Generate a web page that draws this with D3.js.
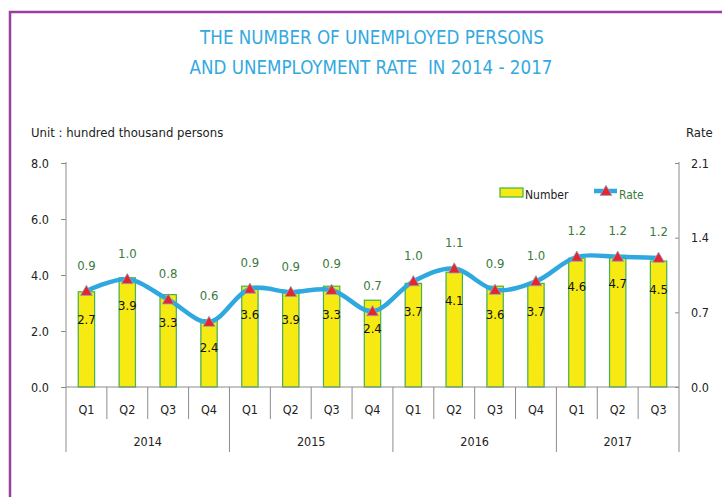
<!DOCTYPE html>
<html>
<head>
<meta charset="utf-8">
<script src="https://cdn.jsdelivr.net/npm/d3@7"></script>
<style>
  body { margin: 0; background: #fff; }
  svg text { font-family: "Liberation Sans Narrow", "DejaVu Sans Condensed", "Noto Sans", sans-serif; }
</style>
</head>
<body>
<div id="plotDiv"></div>
<script>
var quarters = ["Q1", "Q2", "Q3", "Q4", "Q1", "Q2", "Q3", "Q4", "Q1", "Q2", "Q3", "Q4", "Q1", "Q2", "Q3"];
var years = ["2014", "2015", "2016", "2017"];
var yearSpans = [4, 4, 4, 3];
// bar heights as drawn (hundred thousand persons)
var numberValues = [3.4, 3.9, 3.3, 2.4, 3.6, 3.4, 3.6, 3.1, 3.7, 4.1, 3.6, 3.7, 4.6, 4.7, 4.5];
// labels printed on the bars
var numberLabels = ["2.7", "3.9", "3.3", "2.4", "3.6", "3.9", "3.3", "2.4", "3.7", "4.1", "3.6", "3.7", "4.6", "4.7", "4.5"];
var rateValues = [0.90, 1.01, 0.82, 0.61, 0.92, 0.89, 0.91, 0.71, 0.99, 1.11, 0.91, 0.99, 1.22, 1.22, 1.21];
var rateLabels = ["0.9", "1.0", "0.8", "0.6", "0.9", "0.9", "0.9", "0.7", "1.0", "1.1", "0.9", "1.0", "1.2", "1.2", "1.2"];
var leftTicks = [0, 2, 4, 6, 8];
var rightTicks = [0, 0.7, 1.4, 2.1];

var W = 722, H = 497;
var plot = { left: 66, right: 679, top: 163, bottom: 387 };

var svg = d3.select("#plotDiv").append("svg")
    .attr("width", W).attr("height", H);

// frame
svg.append("rect")
    .attr("x", 10).attr("y", 12)
    .attr("width", 760).attr("height", 520)
    .attr("fill", "none").attr("stroke", "#9a3f9e").attr("stroke-width", 2.5);

// title
var titleColor = "#33a9e0";
svg.append("text").attr("x", 372).attr("y", 44).attr("text-anchor", "middle")
    .attr("font-size", 18.6).attr("fill", titleColor)
    .text("THE NUMBER OF UNEMPLOYED PERSONS");
svg.append("text").attr("x", 371).attr("y", 74).attr("text-anchor", "middle")
    .attr("font-size", 18.6).attr("fill", titleColor).attr("xml:space", "preserve")
    .text("AND UNEMPLOYMENT RATE  IN 2014 - 2017");

svg.append("text").attr("x", 31).attr("y", 137).attr("font-size", 13).attr("fill", "#222")
    .text("Unit : hundred thousand persons");
svg.append("text").attr("x", 686).attr("y", 137).attr("font-size", 13).attr("fill", "#222")
    .text("Rate");

var idx = d3.range(quarters.length);
var xScale = d3.scaleBand().domain(idx).range([plot.left, plot.right]);
var yScale = d3.scaleLinear().domain([0, 8]).range([plot.bottom, plot.top]);
var rScale = d3.scaleLinear().domain([0, 2.1]).range([plot.bottom, plot.top]);

// left axis
var yAxis = d3.axisLeft(yScale).tickValues(leftTicks).tickFormat(d3.format(".1f")).tickSize(5).tickPadding(12);
var gy = svg.append("g").attr("transform", "translate(" + plot.left + ",0)").call(yAxis);
gy.select(".domain").remove();
gy.selectAll("line").attr("stroke", "#8c8c8c");
gy.selectAll("text").attr("font-size", 12.5).attr("fill", "#222").attr("font-family", null);

// right axis (ticks point inward)
var rAxis = d3.axisRight(rScale).tickValues(rightTicks).tickFormat(d3.format(".1f")).tickSize(0).tickPadding(12);
var gr = svg.append("g").attr("transform", "translate(" + plot.right + ",0)").call(rAxis);
gr.select(".domain").remove();
gr.selectAll(".tick").append("line").attr("x1", -4).attr("x2", 0).attr("stroke", "#8c8c8c");
gr.selectAll("text").attr("font-size", 12.5).attr("fill", "#222").attr("font-family", null);

var axisColor = "#8c8c8c";
// vertical axis lines extended down through category area
svg.append("line").attr("x1", plot.left).attr("x2", plot.left).attr("y1", plot.top - 1).attr("y2", 452).attr("stroke", axisColor);
svg.append("line").attr("x1", plot.right).attr("x2", plot.right).attr("y1", plot.top - 1).attr("y2", 452).attr("stroke", axisColor);

// bars
var bars = svg.append("g");
bars.selectAll("rect").data(numberValues).enter().append("rect")
    .attr("x", function (d, i) { return xScale(i) + xScale.bandwidth() * 0.3; })
    .attr("width", xScale.bandwidth() * 0.4)
    .attr("y", function (d) { return yScale(d); })
    .attr("height", function (d) { return plot.bottom - yScale(d); })
    .attr("fill", "#f6ea12").attr("stroke", "#3cb54a").attr("stroke-width", 1.2);

// dotted texture at bar edges
[0.3, 0.7].forEach(function (f) {
    bars.selectAll(null).data(numberValues).enter().append("line")
        .attr("x1", function (d, i) { return xScale(i) + xScale.bandwidth() * f; })
        .attr("x2", function (d, i) { return xScale(i) + xScale.bandwidth() * f; })
        .attr("y1", function (d) { return yScale(d) + 8; })
        .attr("y2", plot.bottom - 2)
        .attr("stroke", "#9a9a9a").attr("stroke-width", 1)
        .attr("stroke-dasharray", "1 1.5").attr("opacity", 0.55);
});

// x axis line
svg.append("line").attr("x1", plot.left).attr("x2", plot.right).attr("y1", plot.bottom).attr("y2", plot.bottom).attr("stroke", axisColor);

// category separators
var xg = svg.append("g");
var yearStart = [0];
yearSpans.forEach(function (s, i) { yearStart.push(yearStart[i] + s); });
d3.range(1, quarters.length).forEach(function (i) {
    var isYear = yearStart.indexOf(i) >= 0;
    xg.append("line").attr("x1", xScale(i)).attr("x2", xScale(i))
        .attr("y1", plot.bottom).attr("y2", isYear ? 452 : 419)
        .attr("stroke", axisColor);
});
xg.selectAll("text.q").data(quarters).enter().append("text")
    .attr("x", function (d, i) { return xScale(i) + xScale.bandwidth() / 2; })
    .attr("y", 414).attr("text-anchor", "middle").attr("font-size", 12.5).attr("fill", "#222")
    .text(function (d) { return d; });
xg.selectAll("text.y").data(years).enter().append("text")
    .attr("x", function (d, i) {
        var a = xScale(yearStart[i]);
        var b = yearStart[i + 1] >= quarters.length ? plot.right : xScale(yearStart[i + 1]);
        return (a + b) / 2;
    })
    .attr("y", 446).attr("text-anchor", "middle").attr("font-size", 12.5).attr("fill", "#222")
    .text(function (d) { return d; });

// rate line
var cx = function (i) { return xScale(i) + xScale.bandwidth() / 2; };
var line = d3.line().x(function (d, i) { return cx(i); }).y(function (d) { return rScale(d); })
    .curve(d3.curveCatmullRom.alpha(0.5));
svg.append("path").datum(rateValues).attr("d", line)
    .attr("fill", "none").attr("stroke", "#2fa8e0").attr("stroke-width", 4.5)
    .attr("stroke-linecap", "round");

var tri = d3.symbol().type(d3.symbolTriangle).size(60);
svg.append("g").selectAll("path").data(rateValues).enter().append("path")
    .attr("d", tri)
    .attr("transform", function (d, i) { return "translate(" + cx(i) + "," + (rScale(d) + 1) + ")"; })
    .attr("fill", "#e3262f").attr("stroke", "#8aa6c8").attr("stroke-width", 0.8);

// number labels
svg.append("g").selectAll("text").data(numberLabels).enter().append("text")
    .attr("x", function (d, i) { return cx(i); })
    .attr("y", function (d, i) { return yScale(numberValues[i]) + 28; })
    .attr("dy", "0.35em").attr("text-anchor", "middle").attr("font-size", 13).attr("fill", "#111")
    .text(function (d) { return d; });

// rate labels
svg.append("g").selectAll("text").data(rateLabels).enter().append("text")
    .attr("x", function (d, i) { return cx(i); })
    .attr("y", function (d, i) { return rScale(rateValues[i]) - 26; })
    .attr("dy", "0.35em").attr("text-anchor", "middle").attr("font-size", 13).attr("fill", "#3b7a3b")
    .text(function (d) { return d; });

// legend
var lg = svg.append("g");
lg.append("rect").attr("x", 500).attr("y", 188).attr("width", 23).attr("height", 9)
    .attr("fill", "#f6ea12").attr("stroke", "#3cb54a").attr("stroke-width", 1.2);
lg.append("text").attr("x", 525).attr("y", 195).attr("dy", "0.35em").attr("font-size", 12).attr("fill", "#222").text("Number");
lg.append("line").attr("x1", 594).attr("x2", 617).attr("y1", 191).attr("y2", 191)
    .attr("stroke", "#2fa8e0").attr("stroke-width", 4.5);
lg.append("path").attr("d", tri).attr("transform", "translate(606,192)")
    .attr("fill", "#e3262f").attr("stroke", "#8aa6c8").attr("stroke-width", 0.8);
lg.append("text").attr("x", 619).attr("y", 195).attr("dy", "0.35em").attr("font-size", 12).attr("fill", "#3b7a3b").text("Rate");
</script>
</body>
</html>
